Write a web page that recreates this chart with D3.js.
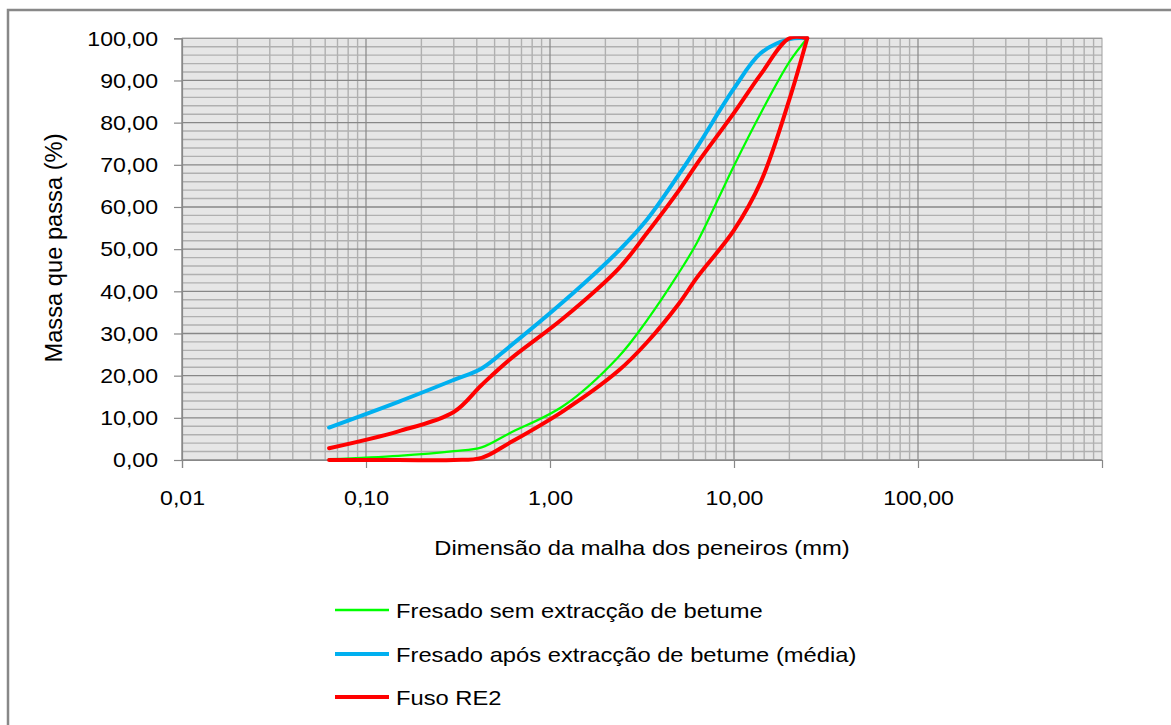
<!DOCTYPE html>
<html><head><meta charset="utf-8">
<script src="https://cdn.jsdelivr.net/npm/d3@7"></script>
<style>body{margin:0;background:#fff;overflow:hidden} svg{display:block}</style>
</head><body><svg id="c" width="1171" height="725"></svg>
<script>
// ---- data ----
const sieves      = [0.063, 0.15, 0.3, 0.425, 0.6, 1.18, 2.36, 3.35, 5, 6.3, 10, 14, 20, 25];
const fresadoSem  = [0.2, 1.0, 2.1, 3.0, 6.3, 12.8, 24.5, 33.0, 44.3, 51.6, 69.8, 82.3, 94.4, 100];
const fresadoApos = [7.7, 13.8, 19.0, 21.7, 26.8, 37.5, 49.6, 56.9, 67.6, 74.2, 88.1, 96.5, 99.8, 100];
const fusoSup     = [2.8, 6.8, 11.4, 17.8, 23.7, 33.6, 45.4, 53.7, 63.8, 70.3, 82.3, 91.5, 100, 100];
const fusoInf     = [0, 0, 0, 0.5, 4.0, 11.6, 21.2, 27.8, 37.0, 43.3, 54.5, 66.0, 85.5, 100];
const xTickValues = [0.01, 0.1, 1, 10, 100];
const xTickLabels = ["0,01", "0,10", "1,00", "10,00", "100,00"];
const yTickValues = [0, 10, 20, 30, 40, 50, 60, 70, 80, 90, 100];
const yTickLabels = ["0,00","10,00","20,00","30,00","40,00","50,00","60,00","70,00","80,00","90,00","100,00"];
const xTitle = "Dimensão da malha dos peneiros (mm)";
const yTitle = "Massa que passa (%)";
const legendLabels = ["Fresado sem extracção de betume", "Fresado após extracção de betume (média)", "Fuso RE2"];

const FONT = "'Liberation Sans', Arial, Helvetica, sans-serif";
const svg = d3.select("#c");
const L = 182, R = 1102, T = 38.3, B = 460;
const x = d3.scaleLog().domain([0.01, 1000]).range([L, R]);
const y = d3.scaleLinear().domain([0, 100]).range([B, T]);

function stretch(sel, k) {
  sel.each(function () {
    const w = this.getComputedTextLength();
    d3.select(this).attr("textLength", w * k).attr("lengthAdjust", "spacingAndGlyphs");
  });
}

// outer chart border
svg.append("rect").attr("x", 8).attr("y", 10).attr("width", 1300).attr("height", 900)
  .attr("fill", "#fff").attr("stroke", "#888").attr("stroke-width", 2.5);

// plot background
svg.append("rect").attr("x", L).attr("y", T).attr("width", R - L).attr("height", B - T)
  .attr("fill", "#e6e6e6");

// grid
const g = svg.append("g");
const minorX = [], majorX = [];
for (let e = -2; e <= 2; e++) {
  for (let k = 1; k <= 9; k++) {
    const v = k * Math.pow(10, e);
    (k === 1 ? majorX : minorX).push(v);
  }
}
const minorY = d3.range(0, 101, 2).filter(v => v % 10 !== 0);
g.selectAll(".mx").data(minorX).join("line")
  .attr("x1", d => x(d)).attr("x2", d => x(d)).attr("y1", T).attr("y2", B)
  .attr("stroke", "#b0b0b0").attr("stroke-width", 1.4);
g.selectAll(".my").data(minorY).join("line")
  .attr("x1", L).attr("x2", R).attr("y1", d => y(d)).attr("y2", d => y(d))
  .attr("stroke", "#b0b0b0").attr("stroke-width", 1.4);
g.selectAll(".Mx").data(majorX).join("line")
  .attr("x1", d => x(d)).attr("x2", d => x(d)).attr("y1", T).attr("y2", B)
  .attr("stroke", "#878787").attr("stroke-width", 1.2);
g.selectAll(".My").data(yTickValues).join("line")
  .attr("x1", L).attr("x2", R).attr("y1", d => y(d)).attr("y2", d => y(d))
  .attr("stroke", "#878787").attr("stroke-width", 1.3);

// plot border
svg.append("rect").attr("x", L).attr("y", T).attr("width", R - L).attr("height", B - T)
  .attr("fill", "none").attr("stroke", "#a0a0a0").attr("stroke-width", 1);

// axes
const yAxis = svg.append("g").attr("transform", `translate(${L},0)`)
  .call(d3.axisLeft(y).tickValues(yTickValues).tickSize(8).tickPadding(16)
    .tickFormat((d, i) => yTickLabels[i]));
const xAxis = svg.append("g").attr("transform", `translate(0,${B})`)
  .call(d3.axisBottom(x).tickValues(xTickValues).tickSize(8).tickPadding(22)
    .tickFormat((d, i) => xTickLabels[i]));
[yAxis, xAxis].forEach(a => {
  a.select(".domain").attr("stroke", "#888").attr("stroke-width", 1.2);
  a.selectAll(".tick line").attr("stroke", "#888").attr("stroke-width", 1.2);
  a.selectAll(".tick text").attr("fill", "#000").style("font-family", FONT).style("font-size", "21px");
});
stretch(yAxis.selectAll(".tick text"), 1.1);
stretch(xAxis.selectAll(".tick text"), 1.1);

// curves (smoothed, clipped near the plot area like the spreadsheet chart)
svg.append("clipPath").attr("id", "pc").append("rect")
  .attr("x", L - 4).attr("y", T - 2).attr("width", R - L + 8).attr("height", B - T + 6);
const series = [
  { vals: fresadoSem,  color: "#00ff00", w: 2.2 },
  { vals: fresadoApos, color: "#00b0f0", w: 4 },
  { vals: fusoInf,     color: "#ff0000", w: 4 },
  { vals: fusoSup,     color: "#ff0000", w: 4 }
];
const line = d3.line().x(d => x(d[0])).y(d => y(d[1])).curve(d3.curveCatmullRom.alpha(0.5));
svg.append("g").attr("clip-path", "url(#pc)").selectAll("path").data(series).join("path")
  .attr("d", s => line(sieves.map((v, i) => [v, s.vals[i]])))
  .attr("fill", "none").attr("stroke", s => s.color).attr("stroke-width", s => s.w)
  .attr("stroke-linejoin", "round").attr("stroke-linecap", "round");

// axis titles
const xt = svg.append("text").attr("x", (L + R) / 2).attr("y", 555).attr("text-anchor", "middle")
  .style("font-family", FONT).style("font-size", "21px").attr("fill", "#000").text(xTitle);
stretch(xt, 1.13);
const yt = svg.append("text").attr("transform", "translate(62,248) rotate(-90)").attr("text-anchor", "middle")
  .style("font-family", FONT).style("font-size", "23px").attr("fill", "#000").text(yTitle);
stretch(yt, 1.03);

// legend
const legColors = ["#00ff00", "#00b0f0", "#ff0000"];
const legW = [2.5, 4, 4];
const legY = [610, 654, 697];
const lg = svg.append("g");
legendLabels.forEach((t, i) => {
  lg.append("line").attr("x1", 335).attr("x2", 389).attr("y1", legY[i]).attr("y2", legY[i])
    .attr("stroke", legColors[i]).attr("stroke-width", legW[i]);
  const tx = lg.append("text").attr("x", 396).attr("y", legY[i] + 7.5)
    .style("font-family", FONT).style("font-size", "21px").attr("fill", "#000").text(t);
  stretch(tx, 1.13);
});
</script></body></html>
